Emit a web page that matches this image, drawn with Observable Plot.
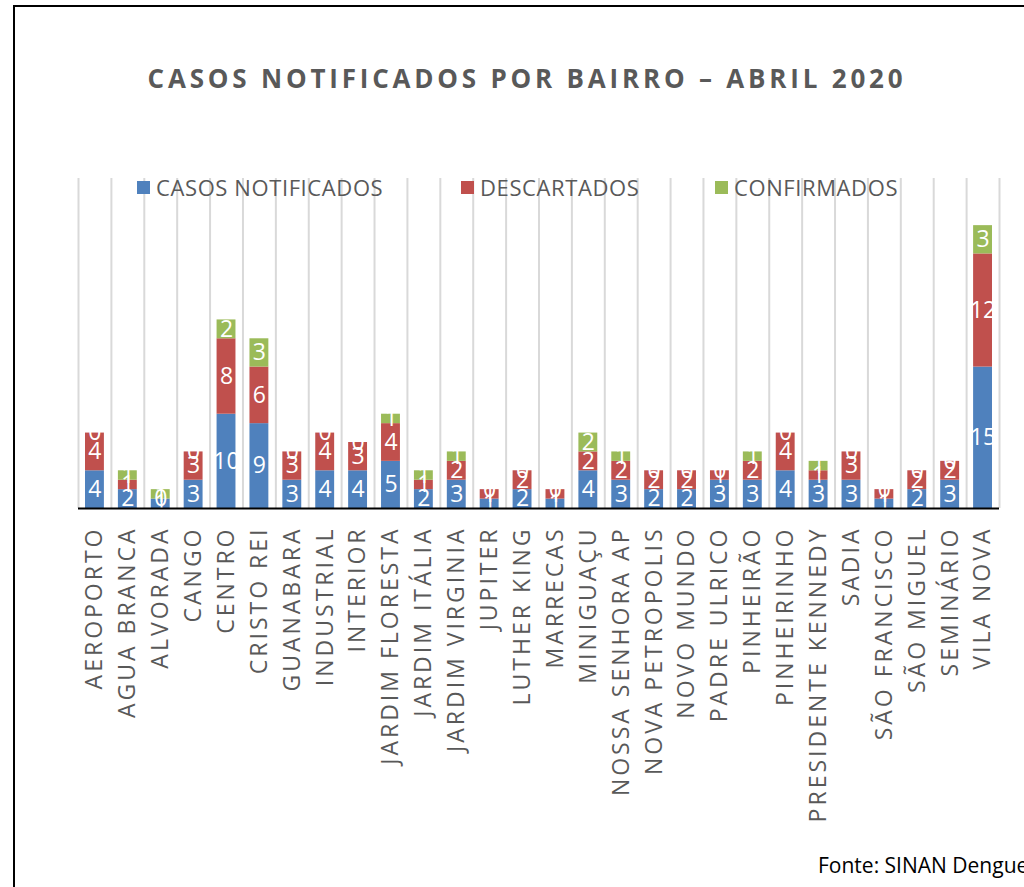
<!DOCTYPE html>
<html>
<head>
<meta charset="utf-8">
<script src="https://cdn.jsdelivr.net/npm/d3@7"></script>
<script src="https://cdn.jsdelivr.net/npm/@observablehq/plot@0.6"></script>
<style>
  html, body { margin: 0; padding: 0; background: #fff; }
  #wrap { position: relative; width: 1024px; height: 887px; overflow: hidden; font-family: "Open Sans", sans-serif; }
  #wrap > svg { position: absolute; left: 0; top: 0; }
  #overlay { pointer-events: none; }
  g[aria-label="x-axis tick label"] text { letter-spacing: 3px; }
</style>
</head>
<body>
<div id="wrap"></div>
<script>
const bairros = ["AEROPORTO","AGUA BRANCA","ALVORADA","CANGO","CENTRO","CRISTO REI","GUANABARA","INDUSTRIAL","INTERIOR","JARDIM FLORESTA","JARDIM ITÁLIA","JARDIM VIRGINIA","JUPITER","LUTHER KING","MARRECAS","MINIGUAÇU","NOSSA SENHORA AP","NOVA PETROPOLIS","NOVO MUNDO","PADRE ULRICO","PINHEIRÃO","PINHEIRINHO","PRESIDENTE KENNEDY","SADIA","SÃO FRANCISCO","SÃO MIGUEL","SEMINÁRIO","VILA NOVA"];
const notificados = [4,2,1,3,10,9,3,4,4,5,2,3,1,2,1,4,3,2,2,3,3,4,3,3,1,2,3,15];
const descartados = [4,1,0,3,8,6,3,4,3,4,1,2,1,2,1,2,2,2,2,1,2,4,1,3,1,2,2,12];
const confirmados = [0,1,1,0,2,3,0,0,0,1,1,1,0,0,0,2,1,0,0,0,1,0,1,0,0,0,0,3];
const series = ["CASOS NOTIFICADOS","DESCARTADOS","CONFIRMADOS"];
const colors = ["#4f81bd","#c0504d","#9bbb59"];
const title = "CASOS NOTIFICADOS POR BAIRRO – ABRIL 2020";
const source = "Fonte: SINAN Dengue";

const values = [notificados, descartados, confirmados];
const rows = series.flatMap((s, i) => bairros.map((b, j) => ({bairro: b, serie: s, valor: values[i][j]})));

const W = 1024, H = 887, ML = 78, MR = 25, MT = 178, MB = 379;
const step = (W - ML - MR) / bairros.length;
const barInset = 7;

const chart = Plot.plot({
  width: W, height: H,
  marginLeft: ML, marginRight: MR, marginTop: MT, marginBottom: MB,
  style: {fontFamily: "Open Sans", background: "transparent"},
  x: {domain: bairros, padding: 0, round: false, label: null, axis: null},
  y: {domain: [0, 35], axis: null},
  color: {domain: series, range: colors},
  marks: [
    Plot.ruleX(bairros, {x: d => d, y1: 0, y2: 35, dx: -step / 2, stroke: "#d9d9d9", strokeWidth: 2}),
    Plot.ruleX(bairros.slice(-1), {x: d => d, y1: 0, y2: 35, dx: step / 2, stroke: "#d9d9d9", strokeWidth: 2}),
    Plot.barY(rows, {x: "bairro", y: "valor", z: "serie", fill: "serie", insetLeft: barInset, insetRight: barInset}),
    Plot.text(rows, Plot.stackY({x: "bairro", y: "valor", z: "serie", text: d => String(d.valor), fill: "white", fontSize: 23})),
    Plot.ruleY([0], {stroke: "#000", strokeWidth: 2}),
    Plot.axisX({tickRotate: -90, tickSize: 0, tickPadding: 18, fontSize: 23, fill: "#595959", label: null})
  ]
});
document.getElementById("wrap").appendChild(chart);

// overlay: border, title, legend, source
const ov = d3.select("#wrap").append("svg").attr("id", "overlay").attr("width", W).attr("height", H);
ov.append("line").attr("x1", 14).attr("x2", 14).attr("y1", 5).attr("y2", H).attr("stroke", "#000").attr("stroke-width", 2);
ov.append("line").attr("x1", 13).attr("x2", W).attr("y1", 6).attr("y2", 6).attr("stroke", "#000").attr("stroke-width", 2);
ov.append("text").attr("x", 527).attr("y", 88).attr("text-anchor", "middle")
  .attr("font-family", "Open Sans").attr("font-weight", "bold").attr("font-size", 26)
  .attr("letter-spacing", "3.8px").attr("fill", "#595959").text(title);

const legendX = [137, 461, 715];
series.forEach((s, i) => {
  ov.append("rect").attr("x", legendX[i]).attr("y", 181).attr("width", 13).attr("height", 13).attr("fill", colors[i]);
  ov.append("text").attr("x", legendX[i] + 19).attr("y", 196)
    .attr("font-family", "Open Sans").attr("font-size", 22).attr("letter-spacing", "0.6px")
    .attr("fill", "#595959").text(s);
});
ov.append("text").attr("x", 818).attr("y", 873).attr("font-family", "Open Sans").attr("font-size", 21)
  .attr("fill", "#000").text(source);
</script>
</body>
</html>
